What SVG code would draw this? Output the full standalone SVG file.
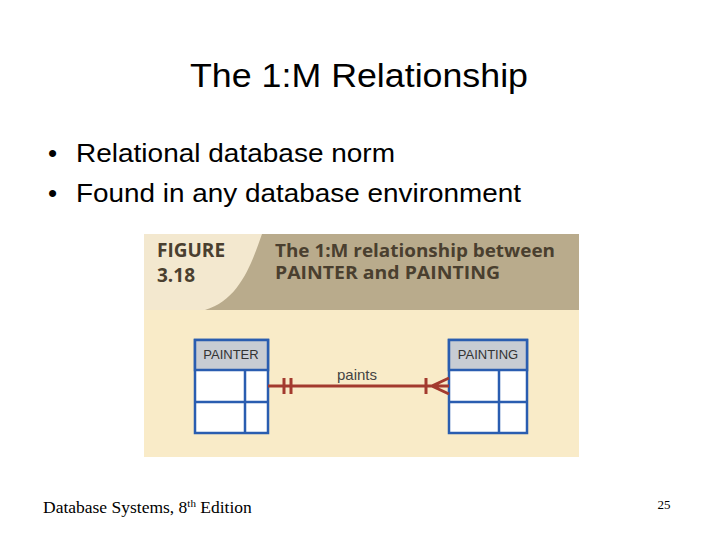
<svg xmlns="http://www.w3.org/2000/svg" width="720" height="540" viewBox="0 0 720 540">
<style>
.sans{font-family:"Liberation Sans",Arial,sans-serif}
.ent{fill:#fff;stroke:#2a5db0;stroke-width:2.5}
.hdr{fill:#c8ccd3;stroke:#2a5db0;stroke-width:2.5}
.rel{stroke:#a33a2e;stroke-width:3;fill:none}
.fig{font-family:"Open Sans","Liberation Sans",sans-serif;font-weight:bold;fill:#4a3f2f}
</style>
<rect width="720" height="540" fill="#fff"/>
<text x="359" y="87" text-anchor="middle" class="sans" font-size="34" textLength="338" lengthAdjust="spacingAndGlyphs">The 1:M Relationship</text>
<g class="sans" font-size="26">
<text x="48" y="162">•</text><text x="76" y="162" textLength="319" lengthAdjust="spacingAndGlyphs">Relational database norm</text>
<text x="48" y="202">•</text><text x="76" y="202" textLength="445" lengthAdjust="spacingAndGlyphs">Found in any database environment</text>
</g>
<g id="figure">
<rect x="144" y="234" width="435" height="223" fill="#f9ebc8"/>
<rect x="144" y="234" width="435" height="76" fill="#b9ab8c"/>
<path d="M144 234 H262 C252 262 240 300 205 310 H144 Z" fill="#f3e8cf"/>
<text class="fig" font-size="19"><tspan x="157" y="257">FIGURE</tspan><tspan x="157" y="282">3.18</tspan></text>
<text class="fig" font-size="17"><tspan x="275" y="257" textLength="280" lengthAdjust="spacingAndGlyphs">The 1:M relationship between</tspan><tspan x="275" y="279" textLength="225" lengthAdjust="spacingAndGlyphs">PAINTER and PAINTING</tspan></text>
</g>
<g id="painter">
<rect class="ent" x="195" y="340" width="73" height="93"/>
<rect class="hdr" x="195" y="340" width="73" height="30"/>
<path class="ent" d="M195 402H268M245 370V433"/>
<text x="231" y="359" text-anchor="middle" class="sans" font-size="13" fill="#333">PAINTER</text>
</g>
<g id="painting">
<rect class="ent" x="449" y="340" width="78" height="93"/>
<rect class="hdr" x="449" y="340" width="78" height="30"/>
<path class="ent" d="M449 402H527M499 370V433"/>
<text x="488" y="359" text-anchor="middle" class="sans" font-size="13" fill="#333">PAINTING</text>
</g>
<g id="connectors">
<path class="rel" d="M268 386H449M284 378V394M291 378V394M426 378V394M449 378L432 386L449 394"/>
<text x="357" y="380" text-anchor="middle" class="sans" font-size="15" fill="#444">paints</text>
</g>
<text x="43" y="513" font-family="Liberation Serif,serif" font-size="17.5">Database Systems, 8<tspan font-size="11" dy="-6">th</tspan><tspan dy="6"> Edition</tspan></text>
<text x="664" y="509" text-anchor="middle" font-family="Liberation Serif,serif" font-size="13">25</text>
</svg>
